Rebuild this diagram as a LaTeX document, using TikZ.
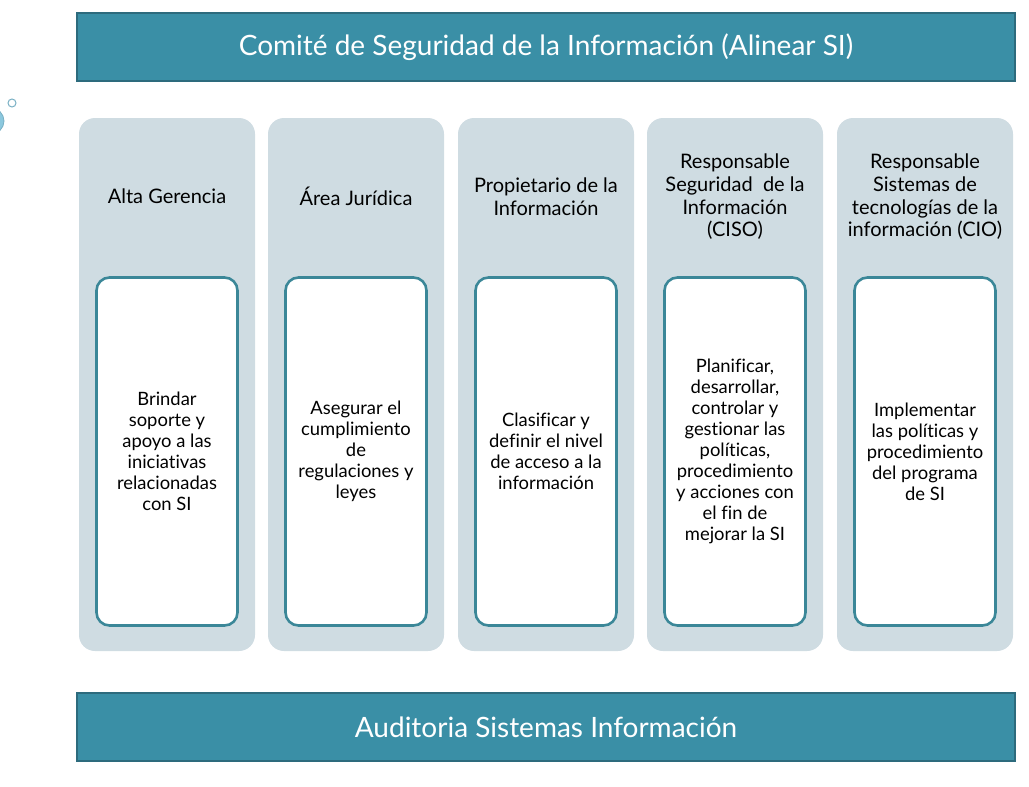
\documentclass[tikz,border=0pt]{standalone}
\usepackage{fontspec}
\setmainfont{Lato}[Ligatures=CommonOff]
\definecolor{barfill}{RGB}{58,143,166}
\definecolor{barline}{RGB}{45,107,125}
\definecolor{colfill}{RGB}{207,220,226}
\definecolor{boxline}{RGB}{59,135,152}
\definecolor{bubble}{RGB}{140,200,222}
\definecolor{bubbleline}{RGB}{120,175,195}
\begin{document}
\begin{tikzpicture}[x=1pt,y=-1pt,
  bar/.style={draw=barline,line width=2pt,fill=barfill,text=white,font=\fontsize{28}{32}\selectfont},
  column/.style={fill=colfill,rounded corners=16pt,minimum width=176pt,minimum height=533pt,inner sep=0pt},
  head/.style={align=center,font=\fontsize{20}{22.7}\selectfont},
  inbox/.style={draw=boxline,line width=2.6pt,fill=white,rounded corners=13pt,minimum width=141pt,minimum height=348pt,align=center,inner sep=0pt,font=\fontsize{18.4}{21}\selectfont}]
\useasboundingbox (0,0) rectangle (1029,787);
% bubbles
\node[circle,draw=bubbleline,line width=1pt,minimum size=8pt,inner sep=0pt] (b1) at (12,103) {};
\node[circle,fill=bubble,draw=bubbleline,line width=0.8pt,minimum size=26pt,inner sep=0pt] (b2) at (-9,121) {};
% bars
\node[bar,minimum width=938pt,minimum height=68pt,inner sep=0pt] (top) at (546,47) {Comité de Seguridad de la Información (Alinear SI)};
\node[bar,minimum width=938pt,minimum height=68pt,inner sep=0pt] (bot) at (546,727) {Auditoria Sistemas Información};
% columns
\foreach \i/\cx in {1/167,2/356,3/546,4/735,5/925}{
  \node[column] (c\i) at (\cx,384.5) {};
}
\node[head] (h1) at (167,196) {Alta Gerencia};
\node[head] (h2) at (356,196) {Área Jurídica};
\node[head] (h3) at (546,197) {Propietario de la\\Información};
\node[head] (h4) at (735,197) {Responsable\\Seguridad\ \ de la\\Información\\(CISO)};
\node[head] (h5) at (925,197) {Responsable\\Sistemas de\\tecnologías de la\\información (CIO)};
\node[inbox] (i1) at (167,451.5) {Brindar\\soporte y\\apoyo a las\\iniciativas\\relacionadas\\con SI};
\node[inbox] (i2) at (356,451.5) {Asegurar el\\cumplimiento\\de\\regulaciones y\\leyes};
\node[inbox] (i3) at (546,451.5) {Clasificar y\\definir el nivel\\de acceso a la\\información};
\node[inbox] (i4) at (735,451.5) {Planificar,\\desarrollar,\\controlar y\\gestionar las\\políticas,\\procedimiento\\y acciones con\\el fin de\\mejorar la SI};
\node[inbox] (i5) at (925,451.5) {Implementar\\las políticas y\\procedimiento\\del programa\\de SI};
\end{tikzpicture}
\end{document}
